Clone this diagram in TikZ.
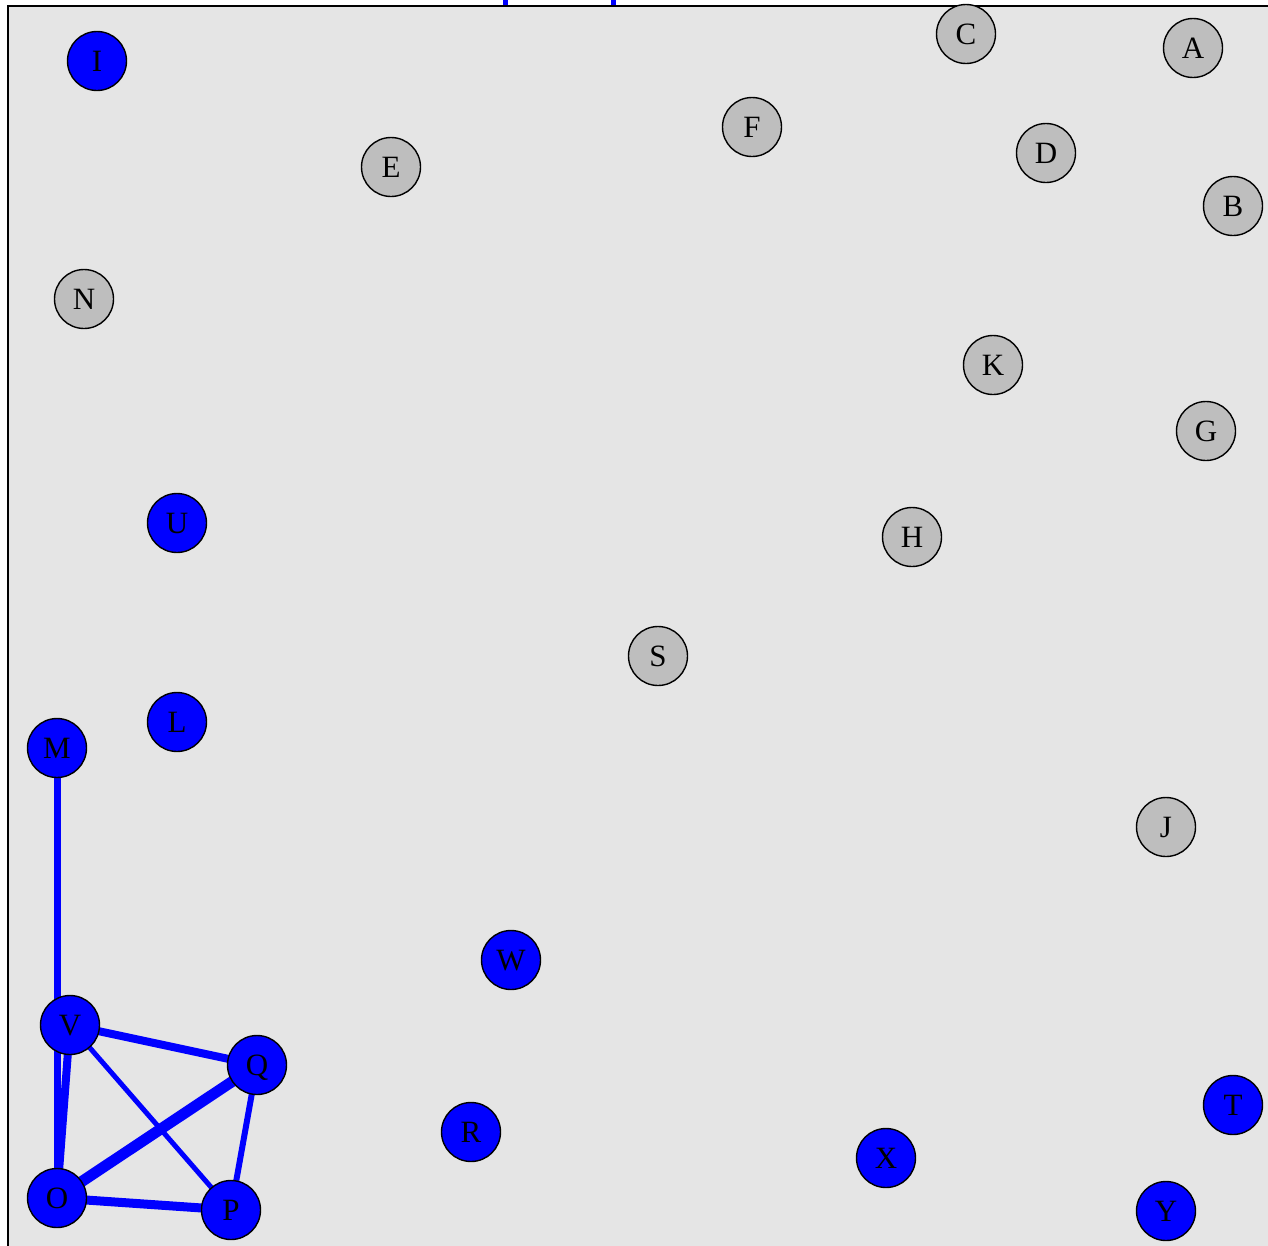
\documentclass[tikz,border=0pt]{standalone}
\usepackage{fontspec}
\setmainfont{Liberation Serif}
\usetikzlibrary{backgrounds}
\definecolor{panelgray}{RGB}{229,229,229}
\definecolor{nodegray}{RGB}{190,190,190}
\definecolor{pureblue}{RGB}{0,0,255}
\tikzset{
  vert/.style={circle, draw=black, line width=1.4pt, minimum size=59pt, inner sep=0pt,
    font=\fontsize{31}{31}\selectfont, text height=20.5pt, text depth=0pt, text=black},
  bluev/.style={vert, fill=pureblue},
  grayv/.style={vert, fill=nodegray},
  edge/.style={draw=pureblue, line cap=butt},
}
\begin{document}
\begin{tikzpicture}[x=1pt,y=-1pt]
\useasboundingbox (0,0) rectangle (1268,1245);
\clip (0,0) rectangle (1268,1245);
\begin{pgfonlayer}{background}
\fill[white] (0,0) rectangle (1268,1245);
\fill[panelgray] (8,6) rectangle (1300,1300);
\draw[pureblue, line width=5pt] (505,0) -- (505,6);
\draw[pureblue, line width=5pt] (613,0) -- (613,6);
\draw[black, line width=1.8pt] (8,1300) -- (8,6) -- (1300,6);
\end{pgfonlayer}

\node[bluev] (I) at (97,61) {I};
\node[grayv] (E) at (391,167) {E};
\node[grayv] (F) at (752,127) {F};
\node[grayv] (C) at (966,34) {C};
\node[grayv] (A) at (1193,48) {A};
\node[grayv] (D) at (1046,153) {D};
\node[grayv] (B) at (1233,206) {B};
\node[grayv] (N) at (84,299) {N};
\node[grayv] (K) at (993,365) {K};
\node[grayv] (G) at (1206,431) {G};
\node[bluev] (U) at (177,523) {U};
\node[grayv] (H) at (912,537) {H};
\node[grayv] (S) at (658,656) {S};
\node[bluev] (L) at (177,722) {L};
\node[bluev] (M) at (57,748) {M};
\node[grayv] (J) at (1166,827) {J};
\node[bluev] (W) at (511,960) {W};
\node[bluev] (V) at (70,1025) {V};
\node[bluev] (Q) at (257,1065) {Q};
\node[bluev] (R) at (471,1132) {R};
\node[bluev] (O) at (57,1198) {O};
\node[bluev] (P) at (231,1210) {P};
\node[bluev] (X) at (886,1158) {X};
\node[bluev] (T) at (1233,1105) {T};
\node[bluev] (Y) at (1166,1211) {Y};

\begin{pgfonlayer}{background}
\draw[edge, line width=7pt] (M.center) -- (O.center);
\draw[edge, line width=8pt] (V.center) -- (O.center);
\draw[edge, line width=8pt] (V.center) -- (Q.center);
\draw[edge, line width=5pt] (V.center) -- (P.center);
\draw[edge, line width=11pt] (O.center) -- (Q.center);
\draw[edge, line width=9pt] (O.center) -- (P.center);
\draw[edge, line width=6pt] (Q.center) -- (P.center);
\end{pgfonlayer}
\end{tikzpicture}
\end{document}
